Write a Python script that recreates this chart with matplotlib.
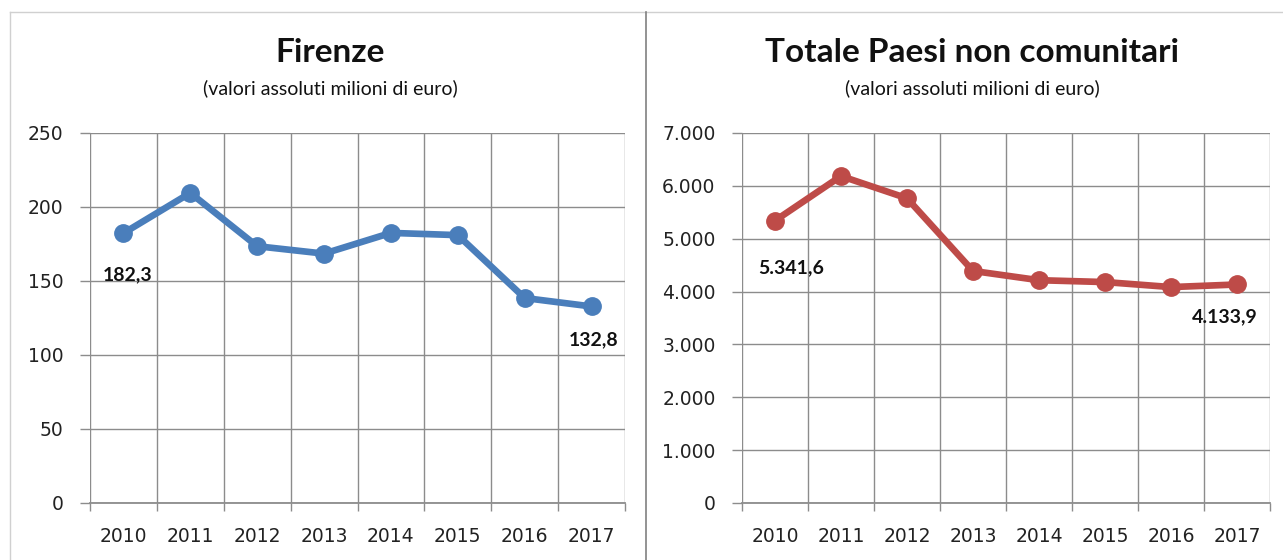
import matplotlib
matplotlib.use("Agg")
import matplotlib.pyplot as plt
from matplotlib.lines import Line2D
from matplotlib.ticker import FuncFormatter, FixedLocator

plt.rcParams['font.family'] = ['DejaVu Sans']

years = ["2010", "2011", "2012", "2013", "2014", "2015", "2016", "2017"]
firenze = [182.3, 209.5, 173.5, 168.5, 182.5, 181.0, 138.5, 132.8]
non_ue = [5341.6, 6185.0, 5765.0, 4390.0, 4215.0, 4180.0, 4085.0, 4133.9]
firenze_yticks = [0, 50, 100, 150, 200, 250]
non_ue_yticks = [0, 1000, 2000, 3000, 4000, 5000, 6000, 7000]

titles = ["Firenze", "Totale Paesi non comunitari"]
subtitle = "(valori assoluti milioni di euro)"

TFONT = ['Lato', 'DejaVu Sans']

fig = plt.figure(figsize=(12.83, 5.6), dpi=100)

def fmt_it(v, decimals=0):
    s = f"{v:,.{decimals}f}"
    return s.replace(",", "X").replace(".", ",").replace("X", ".")

def make(ax, vals, yticks, color, lab_offsets):
    x = list(range(len(vals)))
    ax.set_xlim(-0.5, len(vals) - 0.5)
    ax.set_ylim(yticks[0], yticks[-1])
    ax.yaxis.set_major_locator(FixedLocator(yticks))
    ax.yaxis.set_major_formatter(FuncFormatter(lambda v, p: fmt_it(v)))
    ax.set_xticks(x)
    ax.set_xticklabels(years)
    ax.xaxis.set_minor_locator(FixedLocator([i - 0.5 for i in range(len(vals) + 1)]))
    ax.tick_params(axis='x', which='major', length=0, pad=17, labelsize=13.5, labelcolor='#222222')
    ax.tick_params(axis='x', which='minor', length=6, color='#8c8c8c', width=1)
    ax.tick_params(axis='y', which='major', length=7, color='#8c8c8c', width=1,
                   labelsize=13.5, pad=12, labelcolor='#222222')
    ax.grid(True, which='minor', axis='x', color='#8c8c8c', linewidth=1)
    ax.grid(True, which='major', axis='y', color='#8c8c8c', linewidth=1)
    for s in ['top', 'right', 'left']:
        ax.spines[s].set_visible(False)
    ax.spines['bottom'].set_color('#8c8c8c')
    ax.spines['bottom'].set_linewidth(1.3)
    ax.set_axisbelow(True)
    ax.plot(x, vals, color=color, linewidth=4.8, marker='o', markersize=12.5,
            solid_joinstyle='round', zorder=3)
    for idx, (dx, dy) in lab_offsets.items():
        ax.annotate(fmt_it(vals[idx], 1), xy=(x[idx], vals[idx]), xytext=(dx, dy),
                    textcoords='offset points', ha='center', va='center',
                    fontsize=14, fontweight='bold', color='#111111', family=TFONT)

ax1 = fig.add_axes([90/1283, 1-503/560, 535/1283, 370/560])
make(ax1, firenze, firenze_yticks, '#4A7EBB', {0: (3, -30), 7: (1.5, -24)})
ax2 = fig.add_axes([742/1283, 1-503/560, 528/1283, 370/560])
make(ax2, non_ue, non_ue_yticks, '#BE4B48', {0: (11.5, -34), 7: (-9, -23)})

for cx, t in zip([330, 972], titles):
    fig.text(cx/1283, 1-52/560, t, ha='center', va='center', fontsize=24,
             fontweight='bold', color='#111111', family=TFONT)
    fig.text(cx/1283, 1-88/560, subtitle, ha='center', va='center', fontsize=14,
             color='#111111', family=TFONT)

fig.add_artist(Line2D([10/1283, 10/1283], [0, 1-12/560], transform=fig.transFigure, color='#d0d0d0', linewidth=1))
fig.add_artist(Line2D([10/1283, 1], [1-12/560, 1-12/560], transform=fig.transFigure, color='#d0d0d0', linewidth=1))
fig.add_artist(Line2D([646/1283, 646/1283], [0, 1-12/560], transform=fig.transFigure, color='#808080', linewidth=1.2))

fig.savefig("out.png", dpi=100)
